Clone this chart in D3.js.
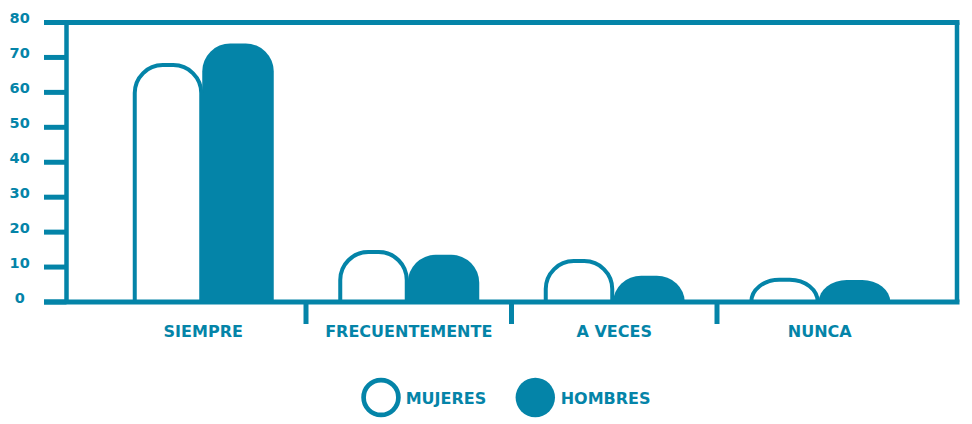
<!DOCTYPE html>
<html>
<head>
<meta charset="utf-8">
<style>
  body { margin: 0; background: #fff; }
  text { font-family: "DejaVu Sans", sans-serif; font-weight: bold; fill: #0484a8; }
</style>
</head>
<body>
<script src="https://d3js.org/d3.v7.min.js"></script>
<script>
// data
const categories = ["SIEMPRE", "FRECUENTEMENTE", "A VECES", "NUNCA"];
const series = ["MUJERES", "HOMBRES"];
const mujeres = [67.8, 14.3, 11.7, 6.4];
const hombres = [74.0, 13.5, 7.5, 6.3];
const yTicks = [0, 10, 20, 30, 40, 50, 60, 70, 80];

const color = "#0484a8";
const W = 972, H = 424;

const svg = d3.select("body").append("svg")
    .attr("width", W)
    .attr("height", H);

const y = d3.scaleLinear().domain([0, 80]).range([302, 22.5]);
const x0 = d3.scaleBand().domain(categories).range([100.5, 922.5]);
const barW = 70.5;
const x1 = d3.scaleBand().domain(series)
    .range([x0.bandwidth() / 2 - barW, x0.bandwidth() / 2 + barW]);

const left = 66.5, right = 957;

// frame
svg.append("line").attr("x1", 44).attr("x2", right + 2.5)
    .attr("y1", y(80)).attr("y2", y(80))
    .attr("stroke", color).attr("stroke-width", 5);
svg.append("line").attr("x1", left).attr("x2", left)
    .attr("y1", y(80)).attr("y2", y(0))
    .attr("stroke", color).attr("stroke-width", 4.5);
svg.append("line").attr("x1", right).attr("x2", right)
    .attr("y1", y(80)).attr("y2", y(0))
    .attr("stroke", color).attr("stroke-width", 4.5);

// y ticks + labels
const yAxis = svg.append("g");
yAxis.selectAll("line").data(yTicks).join("line")
    .attr("x1", 44).attr("x2", left)
    .attr("y1", d => y(d)).attr("y2", d => y(d))
    .attr("stroke", color).attr("stroke-width", 5);
yAxis.selectAll("text").data(yTicks).join("text")
    .attr("x", 19.7).attr("y", d => y(d) + 0.5)
    .attr("text-anchor", "middle")
    .style("font-size", "14.5px")
    .text(d => d);

// rounded-top bar path
function barPath(x, w, top, base) {
  const h = base - top;
  const rx = Math.min(28, w / 2), ry = Math.min(28, h);
  return `M${x},${base} L${x},${top + ry} ` +
    `A${rx},${ry} 0 0 1 ${x + rx},${top} L${x + w - rx},${top} ` +
    `A${rx},${ry} 0 0 1 ${x + w},${top + ry} L${x + w},${base}`;
}

const groups = svg.selectAll(".cat").data(categories).join("g")
    .attr("class", "cat")
    .attr("transform", d => `translate(${x0(d)},0)`);

const sw = 4;
// filled bar first, outlined bar drawn on top so they touch
groups.append("path")
    .attr("d", (d, i) => barPath(x1("HOMBRES") - 1, x1.bandwidth() + 1, y(hombres[i]), y(0)) + " Z")
    .attr("fill", color);

groups.append("path")
    .attr("d", (d, i) => barPath(x1("MUJERES") + sw / 2, x1.bandwidth() - sw, y(mujeres[i]), y(0)))
    .attr("fill", "#fff")
    .attr("stroke", color)
    .attr("stroke-width", sw);

// baseline
svg.append("line").attr("x1", 44).attr("x2", right + 2.5)
    .attr("y1", y(0)).attr("y2", y(0))
    .attr("stroke", color).attr("stroke-width", 5);

// category separators
svg.selectAll(".sep").data(categories.slice(1)).join("line")
    .attr("class", "sep")
    .attr("x1", d => x0(d)).attr("x2", d => x0(d))
    .attr("y1", y(0)).attr("y2", 324)
    .attr("stroke", color).attr("stroke-width", 5);

// category labels
svg.selectAll(".catlabel").data(categories).join("text")
    .attr("class", "catlabel")
    .attr("x", d => x0(d) + x0.bandwidth() / 2)
    .attr("y", 337)
    .attr("text-anchor", "middle")
    .style("font-size", "16px")
    .text(d => d);

// legend
const legend = [
  {name: "MUJERES", cx: 381, filled: false},
  {name: "HOMBRES", cx: 535.3, filled: true}
];
const lg = svg.selectAll(".lg").data(legend).join("g").attr("class", "lg");
lg.append("circle")
    .attr("cx", d => d.cx).attr("cy", 397.5)
    .attr("r", d => d.filled ? 19.7 : 17.4)
    .attr("fill", d => d.filled ? color : "#fff")
    .attr("stroke", d => d.filled ? "none" : color)
    .attr("stroke-width", 4.7);
lg.append("text")
    .attr("x", d => d.cx + (d.filled ? 25.4 : 24.7))
    .attr("y", 403.5)
    .style("font-size", "16px")
    .text(d => d.name);
</script>
</body>
</html>
